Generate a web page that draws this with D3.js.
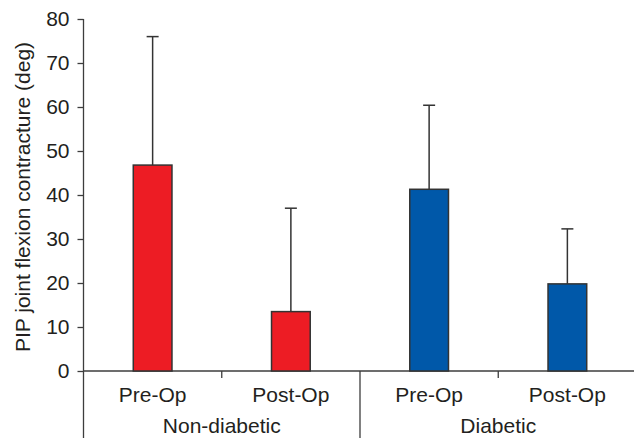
<!DOCTYPE html>
<html>
<head>
<meta charset="utf-8">
<script src="https://cdn.jsdelivr.net/npm/d3@7"></script>
<style>
html,body{margin:0;padding:0;background:#fff;}
svg{display:block;}
text{font-family:"Liberation Sans",Arial,sans-serif;fill:#231f20;}
</style>
</head>
<body>
<svg id="chart" width="634" height="438"></svg>
<script>
const categories = ["Pre-Op","Post-Op","Pre-Op","Post-Op"];
const groups = ["Non-diabetic","Non-diabetic","Diabetic","Diabetic"];
const groupNames = ["Non-diabetic","Diabetic"];
const means = [46.8, 13.5, 41.3, 19.8];
const errors = [29.2, 23.5, 19.1, 12.5];
const barColors = ["#ED1C24","#ED1C24","#0058A9","#0058A9"];
const yTicks = [0,10,20,30,40,50,60,70,80];
const yTitle = "PIP joint flexion contracture (deg)";

const svg = d3.select("#chart");
const W = 634, H = 438;
const x0 = 83.5, x1 = 636.5;
const FS = "21px";
const y = d3.scaleLinear().domain([0,80]).range([371,19]);
const x = d3.scaleBand().domain(d3.range(categories.length)).range([x0,x1]).padding(0);
const barW = x.bandwidth()*0.28;
const axisColor = "#3d3d3d";

// y axis
const yAxis = d3.axisLeft(y).tickValues(yTicks).tickSize(6).tickPadding(8).tickFormat(d3.format("d"));
const gy = svg.append("g").attr("transform",`translate(${x0},0)`).call(yAxis);
gy.select(".domain").remove();
gy.selectAll(".tick line").attr("stroke",axisColor).attr("stroke-width",1.3);
gy.selectAll(".tick text").style("font-size",FS).attr("fill","#231f20").style("font-family","'Liberation Sans',Arial,sans-serif");
svg.append("line").attr("x1",x0).attr("x2",x0).attr("y1",y(80)).attr("y2",H)
  .attr("stroke",axisColor).attr("stroke-width",1.3);

// x axis baseline
svg.append("line").attr("x1",x0).attr("x2",W).attr("y1",y(0)).attr("y2",y(0))
  .attr("stroke",axisColor).attr("stroke-width",1.3);

// separators
categories.forEach((c,i)=>{
  const xp = x(i);
  if (i===0) return;
  const isGroupStart = groups[i] !== groups[i-1];
  svg.append("line").attr("x1",xp).attr("x2",xp).attr("y1",y(0))
    .attr("y2", isGroupStart ? H : y(0)+7)
    .attr("stroke",axisColor).attr("stroke-width",1.3);
});

// error bars
const cx = i => x(i) + x.bandwidth()/2;
categories.forEach((c,i)=>{
  const top = y(means[i]+errors[i]);
  svg.append("line").attr("x1",cx(i)).attr("x2",cx(i)).attr("y1",y(means[i])).attr("y2",top)
    .attr("stroke","#333").attr("stroke-width",1.5);
  svg.append("line").attr("x1",cx(i)-6).attr("x2",cx(i)+6).attr("y1",top).attr("y2",top)
    .attr("stroke","#333").attr("stroke-width",1.5);
});

// bars
svg.selectAll("rect.bar").data(means).enter().append("rect")
  .attr("class","bar")
  .attr("x",(d,i)=>cx(i)-barW/2)
  .attr("y",d=>y(d))
  .attr("width",barW)
  .attr("height",d=>y(0)-y(d))
  .attr("fill",(d,i)=>barColors[i])
  .attr("stroke","#333").attr("stroke-width",1.5);

// category labels
svg.selectAll("text.cat").data(categories).enter().append("text")
  .attr("class","cat")
  .attr("x",(d,i)=>cx(i)).attr("y",402)
  .attr("text-anchor","middle").style("font-size",FS).text(d=>d);

// group labels
groupNames.forEach(g=>{
  const idx = groups.map((v,i)=>v===g?i:-1).filter(i=>i>=0);
  const gx = (x(idx[0]) + x(idx[idx.length-1]) + x.bandwidth())/2;
  svg.append("text").attr("x",gx).attr("y",433).attr("text-anchor","middle")
    .style("font-size",FS).text(g);
});

// y title
svg.append("text").attr("transform","translate(30,197) rotate(-90)")
  .attr("text-anchor","middle").style("font-size",FS).text(yTitle);
</script>
</body>
</html>
